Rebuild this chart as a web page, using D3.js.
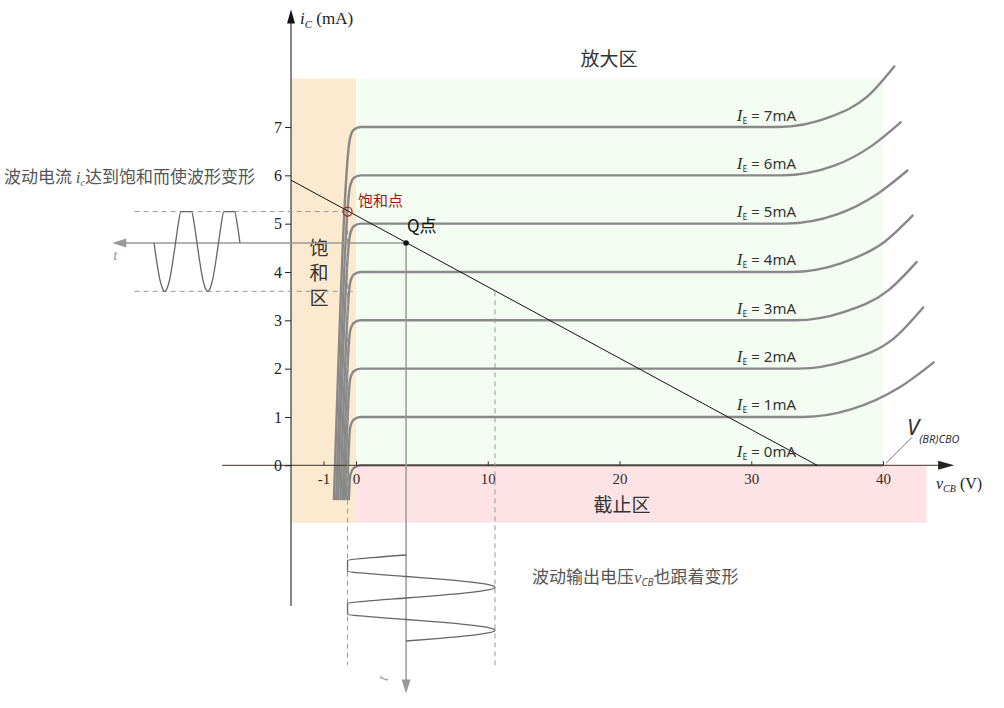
<!DOCTYPE html>
<html>
<head>
<meta charset="utf-8">
<script src="https://cdn.jsdelivr.net/npm/d3@7"></script>
<style>
  body { margin: 0; background: #fff; }
  svg { display: block; }
  .cjk { font-family: "Noto Sans CJK SC", "Noto Sans", sans-serif; }
  .serif { font-family: "Liberation Serif", "DejaVu Serif", serif; }
  .sans { font-family: "Noto Sans", "Open Sans", sans-serif; }
</style>
</head>
<body>
<svg id="chart" width="1004" height="708"></svg>
<script>
// ---- data ----
const xTicks = [-1, 0, 10, 20, 30, 40];
const yTicks = [0, 1, 2, 3, 4, 5, 6, 7];

// emitter currents (mA) of the family of curves
const currents = [0, 1, 2, 3, 4, 5, 6, 7];
// where each curve starts at the bottom of the saturation bundle (V)
const bundleBottomX = [-0.22, -0.28, -0.35, -0.41, -0.48, -0.55, -0.61, -0.68];
// end of the flat part of each curve (V)
const flatEndX = [40, 34, 33.6, 33.3, 33, 32.6, 32.3, 32];
// breakdown bend of each curve: [v, i] points
const breakdown = [
  [],
  [[37.5, 1.15], [41.3, 1.62], [43.9, 2.14]],
  [[37.2, 2.16], [40.8, 2.62], [43.1, 3.28]],
  [[37.0, 3.17], [40.4, 3.62], [42.6, 4.22]],
  [[36.8, 4.18], [40.1, 4.62], [42.3, 5.18]],
  [[36.5, 5.19], [39.6, 5.62], [41.9, 6.11]],
  [[36.3, 6.20], [39.2, 6.62], [41.4, 7.11]],
  [[36.0, 7.21], [38.8, 7.63], [40.9, 8.27]]
];

// regions: [name, v0, v1, i0, i1, colour]
const regions = [
  ["sat", -2, 0, -1.19, 8, "#fbe9d0"],
  ["act", 0, 40, 0, 8, "#f3fdf1"],
  ["cut", 0, 43.3, -1.19, 0, "#fde3e6"]
];

const loadLine = [[-2, 5.9], [35, 0]];
const satPoint = [-0.26, 5.25];
const qPoint = [3.8, 4.6];
const satLow = 3.6;        // lowest i_c of the input swing (mA)
const swingHighV = 10.55;  // v_CB at the lowest i_c (V)

// input current wave, i_c in mA, one sample every 1/16 period, two periods
const icWave = [4.60, 4.98, 5.25, 5.25, 5.25, 5.25, 5.25, 4.98, 4.60, 4.22, 3.89, 3.68, 3.60, 3.68, 3.89, 4.22,
                4.60, 4.98, 5.25, 5.25, 5.25, 5.25, 5.25, 4.98, 4.60, 4.22, 3.89, 3.68, 3.60, 3.68, 3.89, 4.22, 4.60];
// output voltage wave, v_CB in V, same sampling
const vcbWave = [3.80, 1.22, -0.26, -0.26, -0.26, -0.26, -0.26, 1.22, 3.80, 6.38, 8.57, 10.04, 10.55, 10.04, 8.57, 6.38,
                 3.80, 1.22, -0.26, -0.26, -0.26, -0.26, -0.26, 1.22, 3.80, 6.38, 8.57, 10.04, 10.55, 10.04, 8.57, 6.38, 3.80];

// ---- scales ----
const svg = d3.select("#chart");
const x = d3.scaleLinear().domain([-2, 0, 40]).range([291, 356, 883]);
const y = d3.scaleLinear().domain([0, 7]).range([465.3, 127]);
const tIn = d3.scaleLinear().domain([0, 2]).range([240, 154]);   // time runs to the left
const tOut = d3.scaleLinear().domain([0, 2]).range([555, 641]);  // time runs downward

// ---- regions ----
svg.append("g").selectAll("rect").data(regions).join("rect")
  .attr("x", d => x(d[1]))
  .attr("y", d => y(d[4]))
  .attr("width", d => x(d[2]) - x(d[1]))
  .attr("height", d => y(d[3]) - y(d[4]))
  .attr("fill", d => d[5]);

// ---- characteristic curves ----
const curveLine = d3.line()
  .x(d => x(d[0]))
  .y(d => y(d[1]))
  .curve(d3.curveMonotoneX);

const curveData = currents.map((n, i) => {
  const pts = [
    [bundleBottomX[i], -0.72],
    [-0.18, n - 0.22],
    [-0.06, n - 0.05],
    [0.35, n],
    [flatEndX[i], n]
  ];
  return pts.concat(breakdown[i]);
});

svg.append("g").selectAll("path").data(curveData).join("path")
  .attr("d", curveLine)
  .attr("fill", "none")
  .attr("stroke", "#888")
  .attr("stroke-width", 2.4);

// ---- axes ----
const axisColor = "#3f3128";

// x axis line + arrow
svg.append("line")
  .attr("x1", x(-4.12)).attr("x2", x(45.0))
  .attr("y1", y(0)).attr("y2", y(0))
  .attr("stroke", axisColor).attr("stroke-width", 1);
svg.append("path")
  .attr("d", `M${x(45.4)},${y(0)} L${x(45.4) - 16},${y(0) - 4.5} L${x(45.4) - 16},${y(0) + 4.5} Z`)
  .attr("fill", "#222");

const xAxis = svg.append("g")
  .attr("transform", `translate(0,${y(0)})`)
  .call(d3.axisBottom(x).tickValues(xTicks).tickSizeInner(-4).tickSizeOuter(0).tickPadding(8).tickFormat(d => String(d)));
xAxis.select(".domain").remove();
xAxis.selectAll(".tick line").attr("stroke", axisColor);
xAxis.selectAll(".tick text")
  .attr("class", "serif").attr("font-size", 15).attr("fill", "#3a2a22");

// y axis line + arrow
svg.append("line")
  .attr("x1", x(-2)).attr("x2", x(-2))
  .attr("y1", y(9.2)).attr("y2", y(-2.91))
  .attr("stroke", "#111").attr("stroke-width", 1);
svg.append("path")
  .attr("d", `M${x(-2)},${y(9.43)} L${x(-2) - 4},${y(9.43) + 14} L${x(-2) + 4},${y(9.43) + 14} Z`)
  .attr("fill", "#111");

const yAxis = svg.append("g")
  .attr("transform", `translate(${x(-2)},0)`)
  .call(d3.axisLeft(y).tickValues(yTicks).tickSize(6).tickPadding(3).tickFormat(d => String(d)));
yAxis.select(".domain").remove();
yAxis.selectAll(".tick line").attr("stroke", "#222");
yAxis.selectAll(".tick text")
  .attr("class", "serif").attr("font-size", 16).attr("fill", "#222");

// axis titles
const yTitle = svg.append("text").attr("class", "serif").attr("x", 300).attr("y", 24).attr("font-size", 17).attr("fill", "#222");
yTitle.append("tspan").attr("font-style", "italic").text("i");
yTitle.append("tspan").attr("font-style", "italic").attr("font-size", 11).attr("dy", 4).text("C");
yTitle.append("tspan").attr("dy", -4).text(" (mA)");

const xTitle = svg.append("text").attr("class", "serif").attr("x", 936).attr("y", 489).attr("font-size", 16).attr("fill", "#222");
xTitle.append("tspan").attr("font-style", "italic").text("v");
xTitle.append("tspan").attr("font-style", "italic").attr("font-size", 10).attr("dy", 3).text("CB");
xTitle.append("tspan").attr("dy", -3).text(" (V)");

// ---- load line ----
svg.append("line")
  .attr("x1", x(loadLine[0][0])).attr("y1", y(loadLine[0][1]))
  .attr("x2", x(loadLine[1][0])).attr("y2", y(loadLine[1][1]))
  .attr("stroke", "#111").attr("stroke-width", 1);

// ---- curve labels ----
const lab = svg.append("g").selectAll("text").data(currents).join("text")
  .attr("class", "sans")
  .attr("x", x(28.9))
  .attr("y", d => y(d) - (d === 0 ? 8 : 6.5))
  .attr("font-size", 15)
  .attr("fill", "#333");
lab.append("tspan").attr("class", "serif").attr("font-style", "italic").attr("font-size", 17).text("I");
lab.append("tspan").attr("font-size", 9).attr("dy", 3).text("E");
lab.append("tspan").attr("dy", -3).text(d => ` = ${d}mA`);

// V(BR)CBO
svg.append("line")
  .attr("x1", x(40) + 3).attr("y1", y(0) - 2)
  .attr("x2", x(40) + 29).attr("y2", y(0) - 28)
  .attr("stroke", "#555").attr("stroke-width", 0.8);
const vbr = svg.append("text").attr("class", "sans").attr("x", 907).attr("y", 435).attr("fill", "#333");
vbr.append("tspan").attr("font-style", "italic").attr("font-size", 22).text("V");
vbr.append("tspan").attr("font-style", "italic").attr("font-size", 11).attr("dy", 8).text("(BR)CBO");

// ---- region labels ----
svg.append("text").attr("class", "cjk").attr("x", 609).attr("y", 66)
  .attr("text-anchor", "middle").attr("font-size", 19).attr("fill", "#333").text("放大区");
svg.append("text").attr("class", "cjk").attr("x", 622).attr("y", 512)
  .attr("text-anchor", "middle").attr("font-size", 19).attr("fill", "#333").text("截止区");
svg.append("g").selectAll("text").data(["饱", "和", "区"]).join("text")
  .attr("class", "cjk")
  .attr("x", 319).attr("y", (d, i) => 255 + i * 25)
  .attr("text-anchor", "middle").attr("font-size", 19).attr("fill", "#333")
  .text(d => d);

// ---- input wave (left) ----
const gray = "#999";
const dash = "5,4";

svg.append("line")
  .attr("x1", tIn(2.45)).attr("x2", x(satPoint[0]))
  .attr("y1", y(satPoint[1])).attr("y2", y(satPoint[1]))
  .attr("stroke", gray).attr("stroke-dasharray", dash);
svg.append("line")
  .attr("x1", tIn(2.45)).attr("x2", x(-0.1))
  .attr("y1", y(satLow)).attr("y2", y(satLow))
  .attr("stroke", gray).attr("stroke-dasharray", dash);

// time axis of input wave
svg.append("line")
  .attr("x1", x(qPoint[0])).attr("x2", tIn(2.97) + 12)
  .attr("y1", y(qPoint[1])).attr("y2", y(qPoint[1]))
  .attr("stroke", gray).attr("stroke-width", 1.5);
svg.append("path")
  .attr("d", `M${tIn(2.97)},${y(qPoint[1])} L${tIn(2.97) + 14},${y(qPoint[1]) - 4.5} L${tIn(2.97) + 14},${y(qPoint[1]) + 4.5} Z`)
  .attr("fill", gray);
svg.append("text").attr("class", "serif").attr("x", tIn(2.97) + 1).attr("y", y(qPoint[1]) + 17)
  .attr("font-style", "italic").attr("font-size", 15).attr("fill", gray).text("t");

svg.append("path")
  .datum(icWave)
  .attr("d", d3.line().x((d, i) => tIn(i / 16)).y(d => y(d)).curve(d3.curveMonotoneX))
  .attr("fill", "none").attr("stroke", "#666").attr("stroke-width", 1.3);

// ---- output wave (bottom) ----
svg.append("line")
  .attr("x1", x(satPoint[0])).attr("x2", x(satPoint[0]))
  .attr("y1", y(satPoint[1])).attr("y2", tOut(2.56))
  .attr("stroke", gray).attr("stroke-dasharray", dash);
svg.append("line")
  .attr("x1", x(swingHighV)).attr("x2", x(swingHighV))
  .attr("y1", y(satLow)).attr("y2", tOut(2.56))
  .attr("stroke", gray).attr("stroke-dasharray", dash);

svg.append("line")
  .attr("x1", x(qPoint[0])).attr("x2", x(qPoint[0]))
  .attr("y1", y(qPoint[1])).attr("y2", tOut(3.22) - 12)
  .attr("stroke", gray).attr("stroke-width", 1.5);
svg.append("path")
  .attr("d", `M${x(qPoint[0])},${tOut(3.22)} L${x(qPoint[0]) - 4.5},${tOut(3.22) - 14} L${x(qPoint[0]) + 4.5},${tOut(3.22) - 14} Z`)
  .attr("fill", gray);
svg.append("text").attr("class", "serif")
  .attr("transform", `translate(${x(qPoint[0]) - 19},${tOut(3.22) - 12}) rotate(-75)`)
  .attr("font-style", "italic").attr("font-size", 15).attr("fill", gray).text("t");

svg.append("path")
  .datum(vcbWave)
  .attr("d", d3.line().x(d => x(d)).y((d, i) => tOut(i / 16)).curve(d3.curveMonotoneY))
  .attr("fill", "none").attr("stroke", "#666").attr("stroke-width", 1.3);

// ---- points ----
svg.append("circle")
  .attr("cx", x(satPoint[0])).attr("cy", y(satPoint[1])).attr("r", 4.5)
  .attr("fill", "none").attr("stroke", "#b22").attr("stroke-width", 1.3);
svg.append("text").attr("class", "cjk").attr("x", 358).attr("y", 206)
  .attr("font-size", 15).attr("fill", "#a31515").text("饱和点");

svg.append("circle")
  .attr("cx", x(qPoint[0])).attr("cy", y(qPoint[1])).attr("r", 2.8).attr("fill", "#111");
svg.append("text").attr("class", "cjk").attr("x", 407).attr("y", 232)
  .attr("font-size", 17).attr("fill", "#111").text("Q点");

// ---- annotations ----
const note1 = svg.append("text").attr("class", "cjk").attr("x", 4).attr("y", 183)
  .attr("font-size", 17).attr("fill", "#555");
note1.append("tspan").text("波动电流 ");
note1.append("tspan").attr("class", "serif").attr("font-style", "italic").text("i");
note1.append("tspan").attr("class", "serif").attr("font-style", "italic").attr("font-size", 10).attr("dy", 3).text("c");
note1.append("tspan").attr("dy", -3).text("达到饱和而使波形变形");

const note2 = svg.append("text").attr("class", "cjk").attr("x", 532).attr("y", 583)
  .attr("font-size", 17).attr("fill", "#555");
note2.append("tspan").text("波动输出电压");
note2.append("tspan").attr("class", "serif").attr("font-style", "italic").text("v");
note2.append("tspan").attr("class", "sans").attr("font-style", "italic").attr("font-size", 10).attr("dy", 3).text("CB");
note2.append("tspan").attr("dy", -3).text("也跟着变形");
</script>
</body>
</html>
